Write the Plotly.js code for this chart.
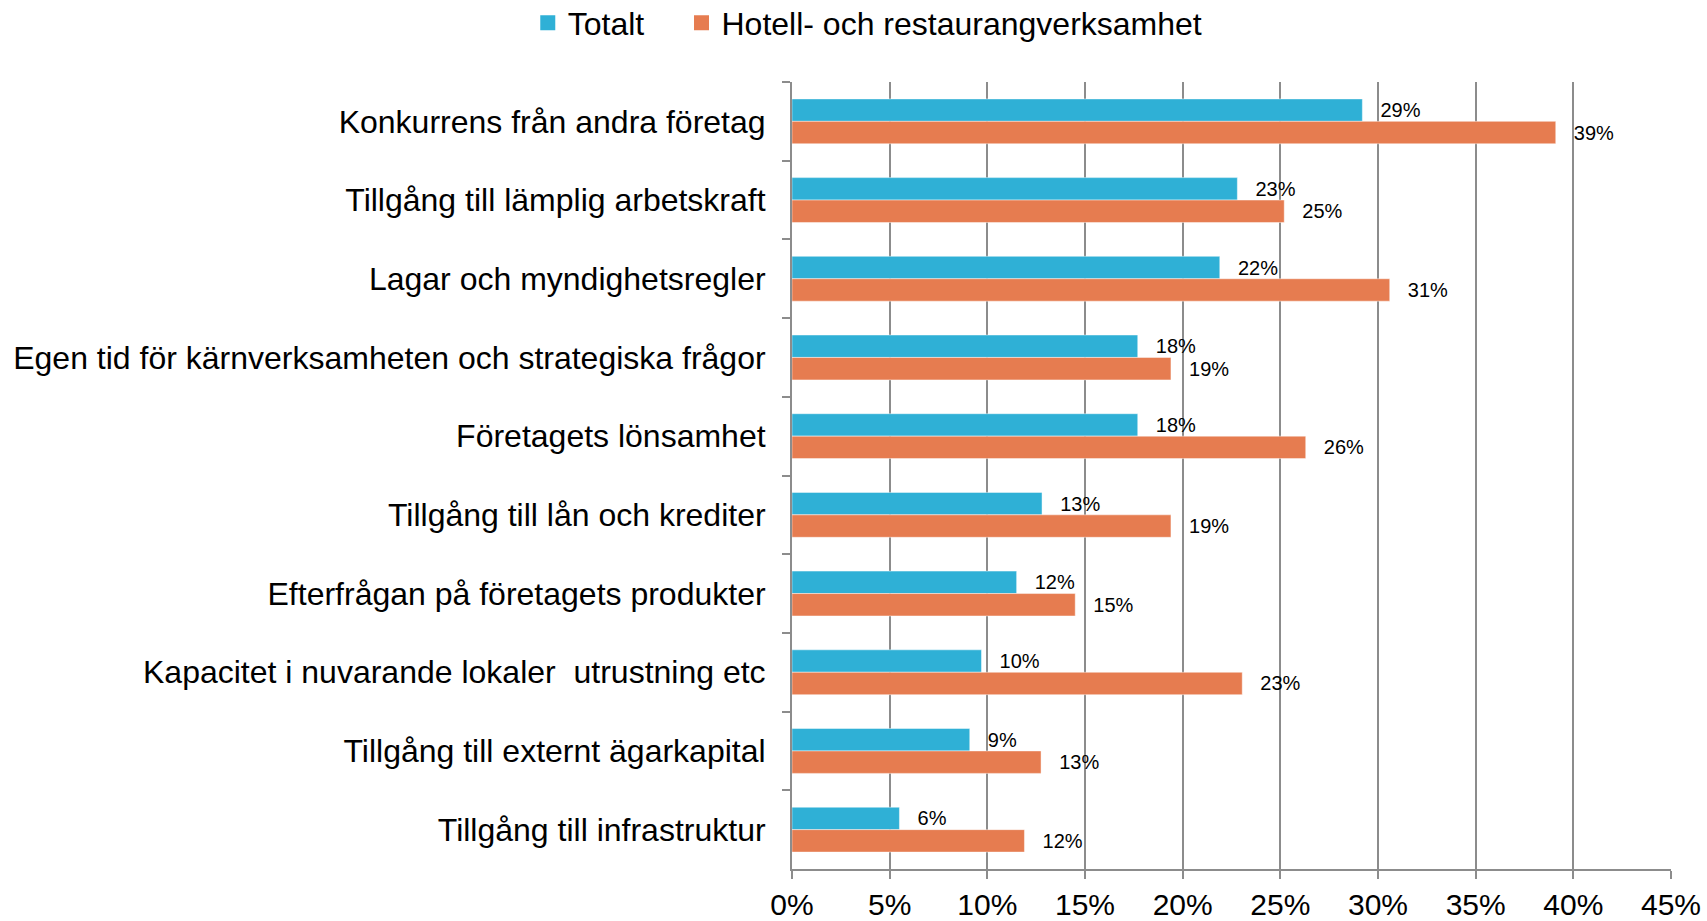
<!DOCTYPE html>
<html>
<head>
<meta charset="utf-8">
<script src="https://cdn.plot.ly/plotly-3.0.1.min.js"></script>
<style>html,body{margin:0;padding:0;background:#fff;overflow:hidden;}#chart{width:1707px;height:921px;}</style>
</head>
<body>
<div id="chart"></div>
<script>
const categories = [
  "Konkurrens från andra företag",
  "Tillgång till lämplig arbetskraft",
  "Lagar och myndighetsregler",
  "Egen tid för kärnverksamheten och strategiska frågor",
  "Företagets lönsamhet",
  "Tillgång till lån och krediter",
  "Efterfrågan på företagets produkter",
  "Kapacitet i nuvarande lokaler  utrustning etc",
  "Tillgång till externt ägarkapital",
  "Tillgång till infrastruktur"
];
const totalt = [29.2, 22.8, 21.9, 17.7, 17.7, 12.8, 11.5, 9.7, 9.1, 5.5];
const hotell = [39.1, 25.2, 30.6, 19.4, 26.3, 19.4, 14.5, 23.05, 12.75, 11.9];
const seriesNames = ["Totalt", "Hotell- och restaurangverksamhet"];
const xTickVals = [0, 5, 10, 15, 20, 25, 30, 35, 40, 45];
const xTickText = xTickVals.map(v => v + "%");
const colors = ["#2fb0d6", "#e67c50"];

const FONT = "Liberation Sans, Arial, sans-serif";
const lbl = v => "\u00a0\u00a0\u2009" + Math.round(v) + "%";

const mk = (vals, name, color) => ({
  type: "bar",
  orientation: "h",
  name: name,
  x: vals,
  y: categories,
  text: vals.map(lbl),
  textposition: "outside",
  textfont: {family: FONT, size: 20, color: "#000"},
  cliponaxis: false,
  showlegend: false,
  marker: {color: color, line: {color: "rgba(255,255,255,0.45)", width: 1}},
  hoverinfo: "x+name"
});

const legendTrace = (name, color, legendId) => ({
  type: "scatter",
  mode: "markers",
  name: name,
  x: [null],
  y: [null],
  legend: legendId,
  marker: {symbol: "square", size: 15, color: color},
  showlegend: true,
  hoverinfo: "skip"
});

const data = [
  mk(totalt, seriesNames[0], colors[0]),
  mk(hotell, seriesNames[1], colors[1]),
  legendTrace(seriesNames[0], colors[0], "legend"),
  legendTrace(seriesNames[1], colors[1], "legend2")
];

const legendBase = {
  orientation: "h",
  y: 1.075, yanchor: "middle",
  xanchor: "left",
  font: {family: FONT, size: 32, color: "#000"},
  itemsizing: "trace",
  bgcolor: "rgba(0,0,0,0)"
};

const layout = {
  width: 1707,
  height: 921,
  paper_bgcolor: "#fff",
  plot_bgcolor: "#fff",
  margin: {l: 792, r: 36, t: 82, b: 52, pad: 0, autoexpand: false},
  font: {family: FONT, size: 31, color: "#000"},
  barmode: "group",
  bargap: 0.43,
  bargroupgap: 0,
  showlegend: true,
  legend: Object.assign({}, legendBase, {x: -0.3006}),
  legend2: Object.assign({}, legendBase, {x: -0.1257}),
  xaxis: {
    range: [0, 45],
    tickvals: xTickVals,
    ticktext: xTickText,
    showgrid: true,
    gridcolor: "#8c8c8c",
    gridwidth: 2,
    showline: true,
    linecolor: "#8c8c8c",
    linewidth: 2,
    ticks: "outside",
    ticklen: 8,
    tickwidth: 2,
    tickcolor: "#8c8c8c",
    ticklabelstandoff: 0,
    zeroline: false,
    tickfont: {family: FONT, size: 30, color: "#000"},
    fixedrange: true
  },
  yaxis: {
    type: "category",
    categoryarray: categories,
    range: [categories.length - 0.5, -0.5],
    autorange: false,
    showgrid: false,
    showline: true,
    linecolor: "#8c8c8c",
    linewidth: 2,
    ticks: "outside",
    tickson: "boundaries",
    ticklen: 8,
    tickwidth: 2,
    tickcolor: "#8c8c8c",
    ticklabelstandoff: 18,
    tickfont: {family: FONT, size: 32, color: "#000"},
    fixedrange: true
  }
};

Plotly.newPlot("chart", data, layout, {displayModeBar: false, staticPlot: true});
</script>
</body>
</html>
